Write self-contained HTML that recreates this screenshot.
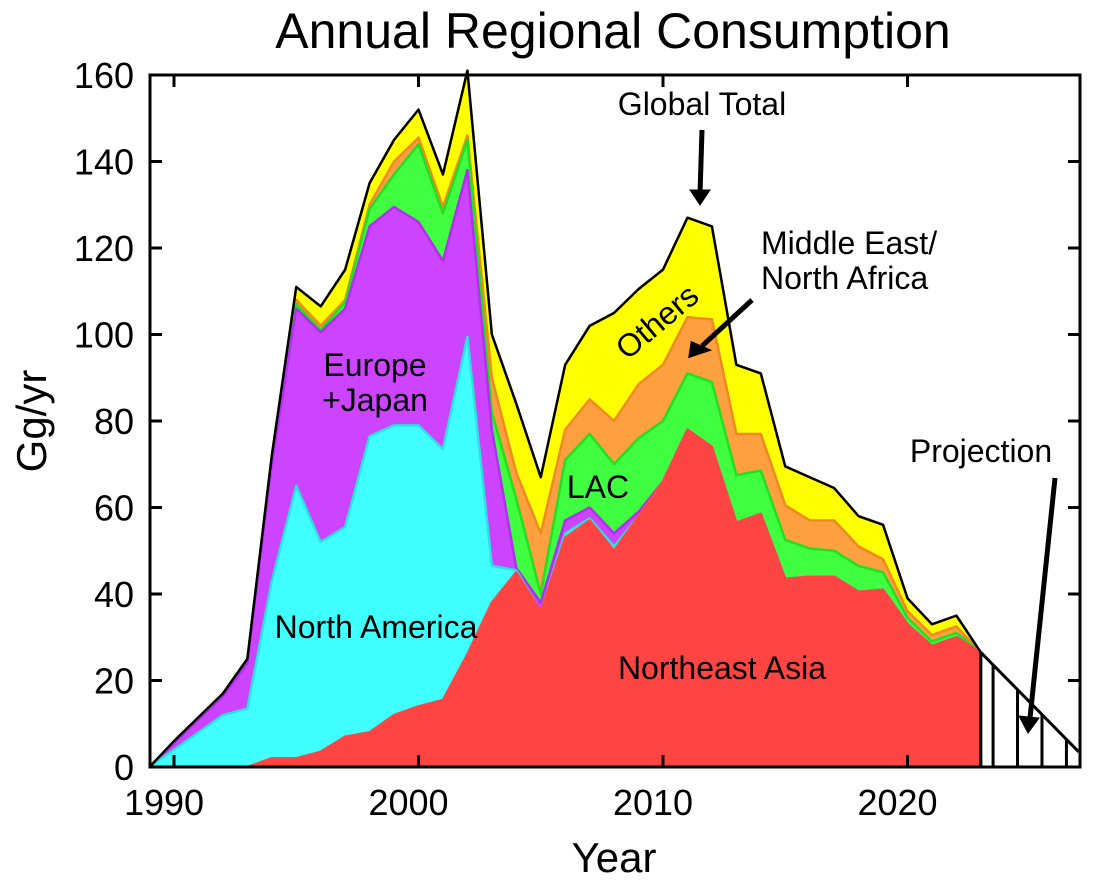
<!DOCTYPE html>
<html><head><meta charset="utf-8"><style>
body{margin:0;background:#fff;}
svg text{font-family:"Liberation Sans",Arial,sans-serif;fill:#000;}
</style></head><body>
<svg id="chart" width="1093" height="883" viewBox="0 0 1093 883" xmlns="http://www.w3.org/2000/svg">
<defs><clipPath id="pc"><rect x="150" y="60" width="930" height="707"/></clipPath></defs>
<g id="areas" clip-path="url(#pc)"></g>
<g id="axes"></g>
<text x="613" y="48" font-size="50" text-anchor="middle">Annual Regional Consumption</text>
<text x="614" y="872" font-size="42" text-anchor="middle">Year</text>
<text transform="translate(46,421) rotate(-90)" font-size="42" text-anchor="middle">Gg/yr</text>
<text x="375" y="376" font-size="32" text-anchor="middle">Europe</text>
<text x="375" y="411" font-size="32" text-anchor="middle">+Japan</text>
<text x="376" y="638" font-size="32" text-anchor="middle">North America</text>
<text x="598" y="498" font-size="32" text-anchor="middle">LAC</text>
<text x="722" y="679" font-size="32" text-anchor="middle">Northeast Asia</text>
<text transform="translate(664,330) rotate(-40)" font-size="32" text-anchor="middle">Others</text>
<text x="702" y="115" font-size="32" text-anchor="middle">Global Total</text>
<text x="761" y="254" font-size="32">Middle East/</text>
<text x="761" y="289" font-size="32">North Africa</text>
<text x="981" y="462" font-size="32" text-anchor="middle">Projection</text>
<g stroke="#000" stroke-width="5" fill="#000">
<line x1="702" y1="130" x2="700" y2="194"/><path d="M690 190 L710 190 L700 205 Z" stroke-width="1"/>
<line x1="752" y1="300" x2="702" y2="346"/><path d="M692 343 L708 350 L690 356 Z" stroke-width="3"/>
<line x1="1055" y1="478" x2="1030" y2="718"/><path d="M1019 716 L1039 718 L1028 733 Z" stroke-width="1"/>
</g>
</svg>
<script>
const years=[1989,1990,1991,1992,1993,1994,1995,1996,1997,1998,1999,2000,2001,2002,2003,2004,2005,2006,2007,2008,2009,2010,2011,2012,2013,2014,2015,2016,2017,2018,2019,2020,2021,2022,2023];
// cumulative stacked tops
const northeastAsiaTop=[0,0,0,0,0,2,2,3.5,7,8,12,14,15.5,26,38,45,36,53,57,50,58,66,78,74,56.5,58.5,43.5,44,44,40.5,41,33,28,30,26.5];
const northAmericaTop=[0,4,8,12,13.5,43,65,52,55.5,76.5,79,79,73.5,99.5,46.5,45.5,36,54,57.5,51,58,66,78,74,56.5,58.5,43.5,44,44,40.5,41,33,28,30,26.5];
const europeJapanTop=[0,5.5,11,16.3,24,70,106,100.5,106,125,129.5,126,117,138,78,46,38,57,60,54,59,66,78,74,56.5,58.5,43.5,44,44,40.5,41,33,28,30,26.5];
const lacTop=[0,5.7,11.2,16.5,24.3,70.5,107,101,107.5,129,137,144,128,145,82,62,40,71,77,70,76,80,91,89,67.5,68.5,52.5,50.5,50,46.5,45,34.5,29,31,26.5];
const menaTop=[0,5.8,11.3,16.6,24.5,71,108,102,108,130,140,145.5,129.5,146,90,68,54,78,85,80,88.5,93,104,103.5,77,77,60.5,57,57,51,48,36,30.5,32.5,26.5];
const globalTotal=[0,6,11.5,17,25,72,111,106.5,115,135,145,152,137,161,100,84,67,93,102,105,110.5,115,127,125,93,91,69.5,67,64.5,58,56,39,33,35,26.5];
const projYears=[2023,2027];
const projValues=[26.5,3.5];
const xTicks=[1990,2000,2010,2020];
const yTicks=[0,20,40,60,80,100,120,140,160];

const NS="http://www.w3.org/2000/svg";
const X=y=>418.5+(y-2000)*24.45;
const Y=v=>767-v*4.325;
function el(t,a,p){const e=document.createElementNS(NS,t);for(const k in a)e.setAttribute(k,a[k]);p.appendChild(e);return e;}
const areas=document.getElementById('areas');
const axes=document.getElementById('axes');
const layers=[
 ['others-area',globalTotal,menaTop,'#ffff00','#e6e600'],
 ['mena-area',menaTop,lacTop,'#ffa040','#f08a20'],
 ['lac-area',lacTop,europeJapanTop,'#40ff40','#20e020'],
 ['europe-japan-area',europeJapanTop,northAmericaTop,'#cc44ff','#b030f0'],
 ['north-america-area',northAmericaTop,northeastAsiaTop,'#40ffff','#30e0e0'],
 ['northeast-asia-area',northeastAsiaTop,null,'#ff4444','#ff4444']
];
layers.forEach(([name,top,bot,fill,stroke])=>{
 let d=years.map((y,i)=>(i?'L':'M')+X(y)+' '+Y(top[i])).join(' ');
 if(bot){for(let i=years.length-1;i>=0;i--)d+=' L'+X(years[i])+' '+Y(bot[i]);}
 else d+=' L'+X(years[years.length-1])+' '+Y(0)+' L'+X(years[0])+' '+Y(0);
 const p=el('path',{d:d+' Z',fill:fill,stroke:stroke,'stroke-width':2.5,'stroke-linejoin':'round'},areas);
 
 
});
const hatchYears=[2023,2023.5,2024.5,2025.5,2026.5];
const pv=y=>projValues[0]+(projValues[1]-projValues[0])*(y-projYears[0])/(projYears[1]-projYears[0]);
hatchYears.forEach(h=>{
 const l=el('line',{x1:X(h),x2:X(h),y1:Y(0),y2:Y(pv(h)),stroke:'#000','stroke-width':3},areas);
 
 
});
const tl=el('polyline',{points:years.map((y,i)=>X(y)+','+Y(globalTotal[i])).join(' '),fill:'none',stroke:'#000','stroke-width':2.5,'stroke-linejoin':'round'},areas);


const pl=el('line',{x1:X(projYears[0]),y1:Y(projValues[0]),x2:X(projYears[1]),y2:Y(projValues[1]),stroke:'#000','stroke-width':3},areas);


const fr=el('rect',{x:150,y:75,width:930,height:692,fill:'none',stroke:'#000','stroke-width':3},axes);


xTicks.forEach(t=>{
 el('line',{x1:X(t),x2:X(t),y1:767,y2:755,stroke:'#000','stroke-width':3},axes);
 el('line',{x1:X(t),x2:X(t),y1:75,y2:87,stroke:'#000','stroke-width':3},axes);
 const tx=el('text',{x:X(t)-10,y:815,'font-size':36,'text-anchor':'middle'},axes);
 tx.textContent=t;
 
 
});
yTicks.forEach(t=>{
 el('line',{x1:150,x2:162,y1:Y(t),y2:Y(t),stroke:'#000','stroke-width':3},axes);
 el('line',{x1:1068,x2:1080,y1:Y(t),y2:Y(t),stroke:'#000','stroke-width':3},axes);
 const tx=el('text',{x:134,y:Y(t)+13,'font-size':36,'text-anchor':'end'},axes);
 tx.textContent=t;
 
 
});
</script>
</body></html>
